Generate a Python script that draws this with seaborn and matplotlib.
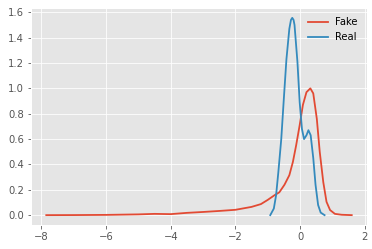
import numpy as np
import pandas as pd
import matplotlib
matplotlib.use("Agg")
import matplotlib.pyplot as plt
import seaborn as sns

# Density curves
fake_x = [-7.85, -7.0, -6.0, -5.5, -5.0, -4.5, -4.0, -3.5, -3.0, -2.5, -2.0, -1.5,
          -1.21, -1.0, -0.79, -0.64, -0.48, -0.33, -0.22, -0.12, -0.01, 0.09, 0.2,
          0.32, 0.41, 0.52, 0.61, 0.72, 0.82, 0.93, 1.08, 1.29, 1.6]
fake_y = [0.0, 0.0005, 0.002, 0.004, 0.006, 0.01, 0.008, 0.018, 0.025, 0.033, 0.042, 0.065,
          0.087, 0.12, 0.157, 0.18, 0.24, 0.315, 0.42, 0.55, 0.71, 0.87, 0.97,
          1.0, 0.96, 0.76, 0.50, 0.26, 0.105, 0.04, 0.01, 0.003, 0.0]

real_x = [-0.92, -0.81, -0.74, -0.67, -0.58, -0.5, -0.42, -0.33, -0.28, -0.24, -0.2, -0.17, -0.08,
          -0.01, 0.06, 0.125, 0.2, 0.26, 0.33, 0.41, 0.48, 0.56, 0.64, 0.76]
real_y = [0.0, 0.052, 0.157, 0.34, 0.60, 0.92, 1.23, 1.47, 1.54, 1.556, 1.54, 1.50, 1.21,
          0.89, 0.68, 0.60, 0.63, 0.67, 0.63, 0.45, 0.24, 0.08, 0.02, 0.0]

plt.style.use("ggplot")

fig = plt.figure(figsize=(372 / 72, 249 / 72), dpi=72)
ax = fig.add_axes([31 / 372, 24 / 249, 336 / 372, 217 / 249])

sns.lineplot(x=fake_x, y=fake_y, sort=False, color="#E24A33", label="Fake", ax=ax, linewidth=1.8)
sns.lineplot(x=real_x, y=real_y, sort=False, color="#348ABD", label="Real", ax=ax, linewidth=1.8)

ax.set_xticks([-8, -6, -4, -2, 0, 2])
ax.set_yticks([0.0, 0.2, 0.4, 0.6, 0.8, 1.0, 1.2, 1.4, 1.6])
ax.set_xlabel("")
ax.set_ylabel("")
ax.legend(loc="upper right", frameon=False)

fig.savefig("out.png", dpi=72)
